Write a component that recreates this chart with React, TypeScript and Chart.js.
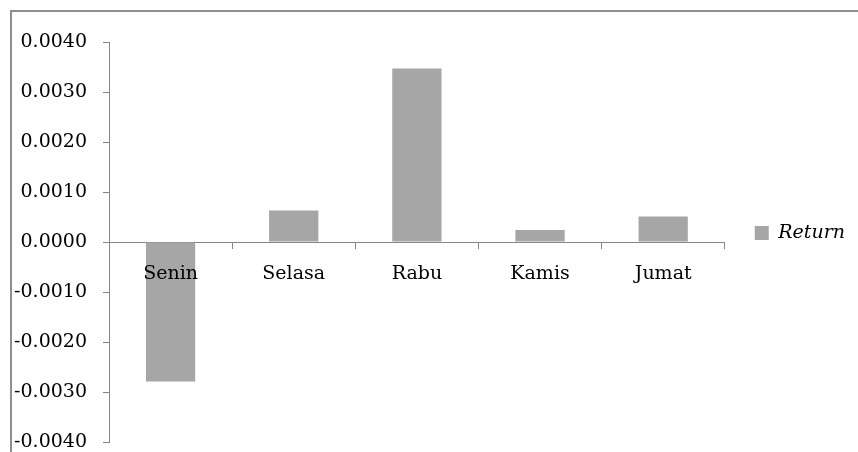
import React, { useEffect, useRef } from "react";
import { Chart, registerables } from "chart.js";

Chart.register(...registerables);

// Average daily return by weekday
const days = ["Senin", "Selasa", "Rabu", "Kamis", "Jumat"];
const returns = [-0.00279, 0.00063, 0.00347, 0.00024, 0.00051];
const seriesName = "Return";

const yMin = -0.004;
const yMax = 0.004;
const yStep = 0.001;

const FONT = "'DejaVu Serif', serif";
const AXIS_GREY = "#868686";
const BAR_GREY = "#a6a6a6";

export default function App() {
  const canvasRef = useRef<HTMLCanvasElement | null>(null);

  useEffect(() => {
    const canvas = canvasRef.current;
    if (!canvas) return;
    const chart = new Chart(canvas, {
      type: "bar",
      data: {
        labels: days,
        datasets: [
          {
            label: seriesName,
            data: returns,
            backgroundColor: BAR_GREY,
            borderWidth: 0,
            categoryPercentage: 1,
            barPercentage: 0.4,
          },
        ],
      },
      options: {
        animation: false,
        responsive: false,
        maintainAspectRatio: false,
        layout: { padding: { top: 24, right: 3, bottom: 10, left: 0 } },
        plugins: {
          tooltip: { enabled: false },
          legend: {
            position: "right",
            labels: {
              boxWidth: 14,
              boxHeight: 14,
              padding: 30,
              color: "#000",
              font: { family: FONT, size: 19, style: "italic" },
            },
          },
        },
        scales: {
          x: {
            position: { y: 0 },
            offset: true,
            grid: {
              offset: true,
              drawOnChartArea: false,
              drawTicks: true,
              tickLength: 6,
              color: AXIS_GREY,
            },
            border: { display: true, color: AXIS_GREY, width: 1 },
            ticks: {
              z: 1,
              padding: 15,
              color: "#000",
              maxRotation: 0,
              font: { family: FONT, size: 19 },
            },
          },
          y: {
            min: yMin,
            max: yMax,
            afterFit: (scale: any) => {
              // fixed axis width and plot top inset
              scale.width = 109;
              scale.paddingTop = 42;
              scale.paddingBottom = 0;
            },
            grid: {
              drawOnChartArea: false,
              drawTicks: true,
              tickLength: 6,
              color: AXIS_GREY,
            },
            border: { display: true, color: AXIS_GREY, width: 1 },
            ticks: {
              stepSize: yStep,
              padding: 16,
              color: "#000",
              font: { family: FONT, size: 19 },
              callback: (v: any) => Number(v).toFixed(4),
            },
          },
        },
      },
    });
    return () => chart.destroy();
  }, []);

  return (
    <div style={{ position: "fixed", left: 0, top: 0, width: 858, height: 452, background: "#fff", overflow: "hidden" }}>
      <canvas ref={canvasRef} width={858} height={452} style={{ position: "absolute", left: 0, top: 0 }} />
      <div
        style={{
          position: "absolute",
          left: 10,
          top: 10,
          width: 860,
          height: 460,
          borderTop: "2px solid #8e8e8e",
          borderLeft: "2px solid #8e8e8e",
          pointerEvents: "none",
        }}
      />
    </div>
  );
}
